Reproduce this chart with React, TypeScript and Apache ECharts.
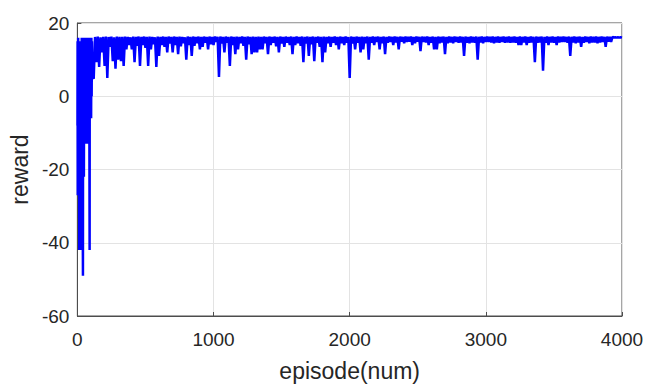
import React, { useEffect, useRef } from "react";
import * as echarts from "echarts";

// Axis ticks
const xTicks = [0, 1000, 2000, 3000, 4000];
const yTicks = [-60, -40, -20, 0, 20];

// Early exploration phase (episodes 1..112), read point by point
const earlyEpisodes = [
  1, 2, 3, 4, 5, 6, 8, 9, 11, 12, 14, 15, 17, 18, 20, 21, 23, 25, 27, 28,
  30, 32, 34, 36, 38, 40, 41, 42, 44, 46, 48, 50, 52, 54, 57, 59, 61, 63, 65, 67,
  70, 72, 74, 76, 77, 79, 82, 85, 87, 90, 91, 93, 95, 97, 99, 101, 103, 105, 107, 110,
];
const earlyRewards = [
  -8, 15, -27, 14, -15, 16, -20, 12, -22, 15, -42, 10, -30, 14, -42, 8, -20, 15, -42, 12,
  -18, 16, -22, 14, -15, -37, -49, 16, -20, 14, -22, 12, -10, 16, -13, 15, -12, 16, -13, 13,
  -5, 16, 2, 15, 2, -13, 16, 6, 15, -42, 14, -6, 16, -4, 15, -6, 16, 0, 15, 5.3,
];

// Later episodes, sampled every 10 episodes starting at episode 120
const mainStart = 120;
const mainStep = 10;
const mainRewards = [
  // 120-310
  4.8, 16.2, 9.3, 16.3, 8, 16.1, 12, 16.2, 8.3, 16.3, 5, 16.2, 13.5, 16.3, 9.6, 16.1, 7.5, 16.3, 10, 16.2,
  // 320-510
  9.6, 16.2, 8.3, 16.3, 12.8, 16.2, 14, 16.1, 12.8, 16.3, 9.3, 16.2, 13.8, 16.3, 8.3, 16.2, 14, 16.3, 13.2, 16.2,
  // 520-710
  8.3, 16.3, 12.8, 16.2, 14.2, 16.1, 8, 16.3, 11, 16.2, 14, 16.3, 13.5, 16.2, 12, 16.3, 14.4, 16.2, 12, 16.3,
  // 720-910
  14, 16.2, 11.5, 16.3, 13.6, 16.2, 14.5, 16.1, 10, 16.3, 14, 16.2, 11, 16.3, 13.8, 16.2, 14.5, 16.3, 12.8, 16.2,
  // 920-1110
  13.5, 16.3, 14.6, 16.2, 12.8, 16.3, 14.2, 16.2, 14, 16.3, 14.8, 16.2, 5.3, 16.3, 14.4, 16.2, 12, 16.3, 14.6, 16.2,
  // 1120-1310
  8.3, 16.3, 14, 16.2, 11.5, 16.3, 12.8, 16.2, 14.5, 16.3, 13.8, 16.2, 10, 16.3, 14.2, 16.2, 11.5, 16.3, 12, 16.2,
  // 1320-1510
  12, 16.3, 12.8, 16.2, 12.8, 16.3, 14.5, 16.2, 11.5, 16.3, 14, 16.2, 14.6, 16.3, 13.6, 16.2, 12, 16.3, 14.4, 16.2,
  // 1520-1710
  13.5, 16.3, 14.6, 16.2, 14, 16.3, 11.5, 16.2, 14, 16.3, 14.5, 16.2, 13.8, 16.3, 9.3, 16.2, 14.4, 16.3, 11, 16.2,
  // 1720-1910
  14.2, 16.3, 9.6, 16.2, 14.6, 16.3, 13.5, 16.2, 9.3, 16.3, 12, 16.2, 14.5, 16.3, 13.5, 16.2, 14.6, 16.3, 14, 16.2,
  // 1920-2110
  12.8, 16.3, 14.5, 16.2, 14, 16.3, 14.6, 16.2, 5, 16.3, 14.4, 16.2, 12.8, 16.3, 14.6, 16.2, 12, 16.3, 12.8, 16.2,
  // 2120-2310
  14.5, 16.3, 10, 16.2, 14.6, 16.3, 14, 16.2, 14.8, 16.3, 12.8, 16.2, 14.5, 16.3, 11.5, 16.2, 14.6, 16.3, 14.8, 16.2,
  // 2320-2510
  14, 16.3, 14.7, 16.2, 12.8, 16.3, 14.9, 16.2, 14.5, 16.3, 14.8, 16.2, 14.9, 16.3, 14, 16.2, 14.5, 16.3, 14.9, 16.2,
  // 2520-2710
  12.3, 16.3, 14.8, 16.2, 14.7, 16.3, 14, 16.2, 14.6, 16.3, 12.8, 16.2, 12.8, 16.3, 14.5, 16.2, 14.7, 16.3, 11.5, 16.2,
  // 2720-2910
  14.5, 16.3, 14.7, 16.2, 14.5, 16.3, 14.8, 16.2, 14.6, 16.3, 14.7, 16.2, 11, 16.3, 14.6, 16.2, 14.5, 16.3, 14.7, 16.2,
  // 2920-3110
  14.6, 16.3, 10, 16.2, 14.7, 16.3, 14.5, 16.2, 14.8, 16.3, 14.8, 16.2, 14.7, 16.3, 14.5, 16.2, 14.7, 16.3, 14.6, 16.2,
  // 3120-3310
  14.8, 16.3, 14.6, 16.2, 14.7, 16.3, 14.6, 16.2, 14.7, 16.3, 14.6, 16.2, 14, 16.3, 14, 16.2, 14.7, 16.3, 14, 16.2,
  // 3320-3510
  14.6, 16.3, 14.7, 16.2, 9.3, 16.3, 14.6, 16.2, 14.7, 16.3, 7, 16.2, 14.6, 16.3, 14, 16.2, 14.7, 16.3, 14.6, 16.2,
  // 3520-3710
  14, 16.3, 14.7, 16.2, 14.8, 16.3, 14.8, 16.2, 14.6, 16.3, 11, 16.2, 14.7, 16.3, 14.5, 16.2, 14.7, 16.3, 13.5, 16.2,
  // 3720-3910
  14.6, 16.3, 14.8, 16.2, 14.5, 16.3, 14.7, 16.2, 14.7, 16.3, 14.5, 16.2, 14.7, 16.3, 14.8, 16.2, 13.5, 16.3, 14.9, 16.2,
  // 3920-4000
  14.8, 16.2, 16, 16.1, 16, 16.1, 16, 16.1, 16,
];

const FONT = "'Liberation Sans', Arial, Helvetica, sans-serif";
const TEXT = "#262626";
const AXIS = "#4d4d4d";

export default function App() {
  const ref = useRef<HTMLDivElement>(null);

  useEffect(() => {
    document.body.style.margin = "0";
    if (!ref.current) return;
    const chart = echarts.init(ref.current, null, { renderer: "svg", width: 648, height: 387 });

    const data: [number, number][] = [];
    earlyEpisodes.forEach((e, i) => data.push([e, earlyRewards[i]]));
    mainRewards.forEach((v, i) => data.push([mainStart + i * mainStep, v]));

    chart.setOption({
      animation: false,
      backgroundColor: "#ffffff",
      grid: {
        left: 75,
        right: 26,
        top: 23,
        bottom: 63,
        show: true,
        borderColor: AXIS,
        borderWidth: 1,
        backgroundColor: "transparent",
      },
      xAxis: {
        type: "value",
        min: xTicks[0],
        max: xTicks[xTicks.length - 1],
        interval: 1000,
        name: "episode(num)",
        nameLocation: "middle",
        nameGap: 43,
        nameTextStyle: { fontFamily: FONT, fontSize: 23, color: TEXT },
        axisLine: { show: true, onZero: false, lineStyle: { color: AXIS, width: 1 } },
        axisTick: { show: true, inside: true, length: 4, lineStyle: { color: AXIS } },
        axisLabel: {
          fontFamily: FONT,
          fontSize: 19,
          color: TEXT,
          margin: 14,
          formatter: (v: number) => String(v),
        },
        splitLine: { show: true, lineStyle: { color: "#e3e3e3", width: 1 } },
      },
      yAxis: {
        type: "value",
        min: yTicks[0],
        max: yTicks[yTicks.length - 1],
        interval: 20,
        name: "reward",
        nameLocation: "middle",
        nameRotate: 90,
        nameGap: 43,
        nameTextStyle: { fontFamily: FONT, fontSize: 23, color: TEXT },
        axisLine: { show: true, onZero: false, lineStyle: { color: AXIS, width: 1 } },
        axisTick: { show: true, inside: true, length: 4, lineStyle: { color: AXIS } },
        axisLabel: {
          fontFamily: FONT,
          fontSize: 19,
          color: TEXT,
          margin: 8,
          formatter: (v: number) => String(v),
        },
        splitLine: { show: true, lineStyle: { color: "#e3e3e3", width: 1 } },
      },
      series: [
        {
          type: "line",
          data,
          showSymbol: false,
          symbol: "none",
          lineStyle: { color: "#0000ff", width: 2.5 },
          itemStyle: { color: "#0000ff" },
          clip: true,
        },
      ],
    });

    return () => chart.dispose();
  }, []);

  return <div ref={ref} style={{ width: 648, height: 387 }} />;
}
